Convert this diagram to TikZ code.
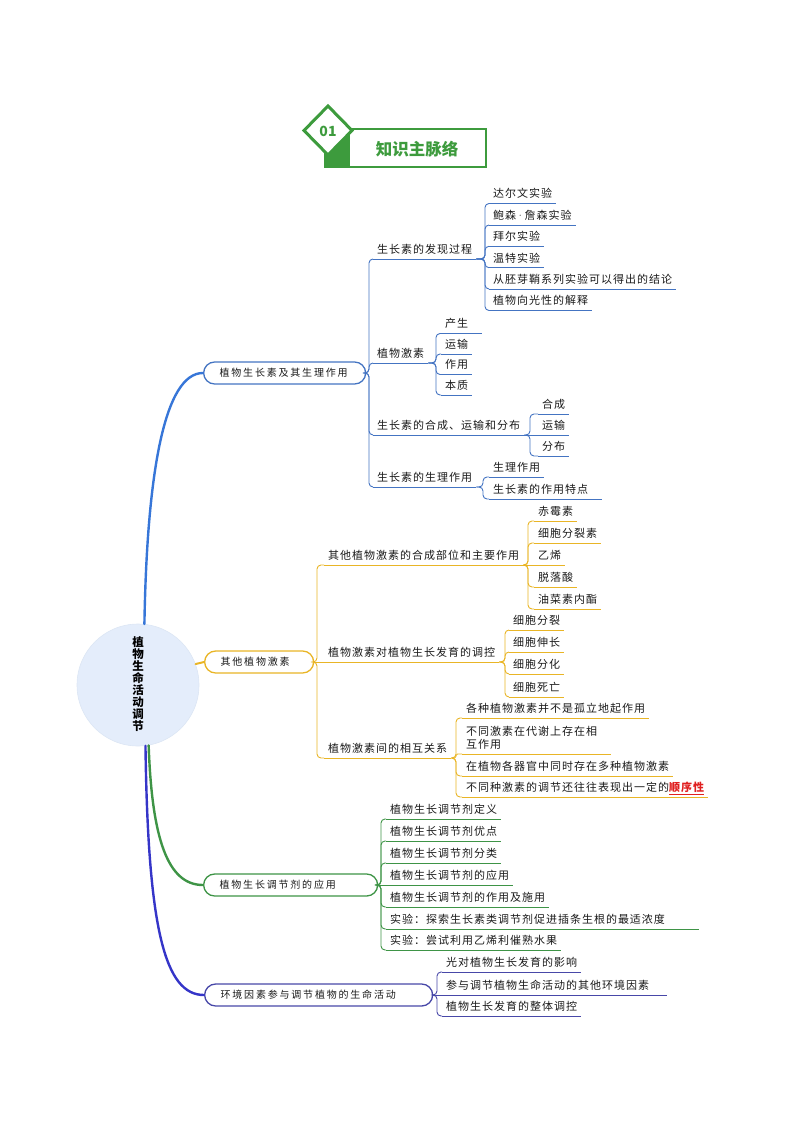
\documentclass[tikz,border=0pt]{standalone}
\usepackage{fontspec}
\usepackage{xcolor}
\newfontfamily\cjk{Noto Sans CJK SC}
\newfontfamily\leaffont{Noto Sans CJK SC}[LetterSpace=9]
\newfontfamily\pillfont{Noto Sans CJK SC}[LetterSpace=18]
\definecolor{hg}{HTML}{3D9B3D}
\definecolor{cA}{HTML}{4474C2}
\definecolor{cAm}{HTML}{3776D8}
\definecolor{cB}{HTML}{E9B526}
\definecolor{cC}{HTML}{3E9446}
\definecolor{cD}{HTML}{4848A8}
\definecolor{cDm}{HTML}{3535C8}
\definecolor{circfill}{HTML}{E4EDFB}
\definecolor{circline}{HTML}{DCE6F4}
\definecolor{txt}{HTML}{1A1A1A}
\definecolor{redtx}{HTML}{E02020}
\tikzset{
  leaf/.style={anchor=south west, inner xsep=4pt, inner ysep=3.5pt, text depth=2pt,
    align=left, text=txt, font={\leaffont\fontsize{11}{13}\selectfont}},
  pill/.style={draw, rounded corners=11pt, fill=white, line width=1.3pt, minimum height=22pt,
    inner xsep=16pt, inner ysep=0pt, anchor=west, align=left, text=txt,
    text height=8pt, text depth=1.5pt, font={\pillfont\fontsize{10}{12}\selectfont}},
  ln/.style={line width=0.9pt, rounded corners=4pt},
  trunk/.style={line width=2.4pt, line cap=round},
}
% color, name, x, y, extension, text
\newcommand\lf[6]{%
  \node[leaf] (#2) at (#3,#4) {#6};
  \draw[#1, line width=0.9pt] (#2.south west) -- ([xshift=#5pt]#2.south east);
}
% color, from, spine, to
\newcommand\cn[4]{\draw[ln,#1] (#2) -- (#2 -| #3) |- (#4);}
\begin{document}
\begin{tikzpicture}[x=1pt,y=-1pt]
\useasboundingbox (0,0) rectangle (794,1123);

% ---------- header ----------
\fill[hg] (325,129) rectangle (350,167);
\draw[hg, line width=2pt] (325,129) rectangle (486,167);
\draw[hg, line width=3pt, fill=white, line join=miter] (328,106) -- (352,130.5) -- (328,155) -- (304,130.5) -- cycle;
\node[font={\cjk\bfseries\fontsize{14}{14}\selectfont}, text=hg] (num) at (328,131) {01};
\node[font={\cjk\bfseries\fontsize{16.5}{18}\selectfont}, text=hg] (ttl) at (417,149) {知识主脉络};

% ---------- center ----------
\node[circle, minimum size=122pt, fill=circfill, draw=circline, line width=0.6pt] (C) at (138,685) {};
\node[align=center, font={\cjk\bfseries\fontsize{11.5}{11.9}\selectfont}, text=black] (Ct) at (138,684)
  {植\\物\\生\\命\\活\\动\\调\\节};

% ---------- pills ----------
\node[pill, draw=cA, text width=130pt] (P1) at (203,373) {植物生长素及其生理作用};
\node[pill, draw=cB, text width=77pt] (P2) at (204,662) {其他植物激素};
\node[pill, draw=cC, text width=142pt] (P3) at (203,885) {植物生长调节剂的应用};
\node[pill, draw=cD, text width=196pt] (P4) at (204,995) {环境因素参与调节植物的生命活动};

% ---------- trunks ----------
\draw[trunk, cAm] (C.84) .. controls (147,470) and (165,373) .. (P1.west);
\draw[trunk, cB, line width=2pt] (C.20) -- (P2.west);
\draw[trunk, cC] (C.-80) .. controls (152,840) and (168,885) .. (P3.west);
\draw[trunk, cDm] (C.-83) .. controls (148,930) and (165,995) .. (P4.west);

% ---------- spines ----------
\coordinate (sp1) at (369,0);
\coordinate (sa1) at (485,0);
\coordinate (sa2) at (436,0);
\coordinate (sa3) at (530,0);
\coordinate (sa4) at (483,0);
\coordinate (sp2) at (317,0);
\coordinate (sb1) at (528,0);
\coordinate (sb2) at (505,0);
\coordinate (sb3) at (456,0);
\coordinate (sp3) at (381,0);
\coordinate (sp4) at (437,0);

% ---------- branch 1 ----------
\lf{cA}{A1}{373}{259}{0}{生长素的发现过程}
\lf{cA}{A2}{373}{363}{0}{植物激素}
\lf{cA}{A3}{373}{435}{0}{生长素的合成、运输和分布}
\lf{cA}{A4}{373}{487}{0}{生长素的生理作用}
\cn{cA}{P1.east}{sp1}{A1.south west}
\cn{cA}{P1.east}{sp1}{A2.south west}
\cn{cA}{P1.east}{sp1}{A3.south west}
\cn{cA}{P1.east}{sp1}{A4.south west}

\lf{cA}{a11}{489}{203.5}{0}{达尔文实验}
\lf{cA}{a12}{489}{225}{0}{鲍森{\rmfamily\textperiodcentered}詹森实验}
\lf{cA}{a13}{489}{246.3}{0}{拜尔实验}
\lf{cA}{a14}{489}{267.7}{0}{温特实验}
\lf{cA}{a15}{489}{289}{0}{从胚芽鞘系列实验可以得出的结论}
\lf{cA}{a16}{489}{310.5}{0}{植物向光性的解释}
\foreach \n in {a11,a12,a13,a14,a15,a16} {\cn{cA}{A1.south east}{sa1}{\n.south west}}

\lf{cA}{a21}{441}{333.5}{10}{产生}
\lf{cA}{a22}{441}{354}{0}{运输}
\lf{cA}{a23}{441}{374.5}{0}{作用}
\lf{cA}{a24}{441}{395}{0}{本质}
\foreach \n in {a21,a22,a23,a24} {\cn{cA}{A2.south east}{sa2}{\n.south west}}

\lf{cA}{a31}{538}{414}{0}{合成}
\lf{cA}{a32}{538}{435}{0}{运输}
\lf{cA}{a33}{538}{456}{0}{分布}
\cn{cA}{A3.south east}{sa3}{a31.south west}
\draw[ln,cA] (A3.south east) -- (a32.south west);
\cn{cA}{A3.south east}{sa3}{a33.south west}

\lf{cA}{a41}{489}{477}{0}{生理作用}
\lf{cA}{a42}{489}{499}{10}{生长素的作用特点}
\cn{cA}{A4.south east}{sa4}{a41.south west}
\cn{cA}{A4.south east}{sa4}{a42.south west}

% ---------- branch 2 ----------
\lf{cB}{B1}{324}{565}{0}{其他植物激素的合成部位和主要作用}
\lf{cB}{B2}{324}{662}{0}{植物激素对植物生长发育的调控}
\lf{cB}{B3}{324}{758}{0}{植物激素间的相互关系}
\cn{cB}{P2.east}{sp2}{B1.south west}
\draw[ln,cB] (P2.east) -- (B2.south west);
\cn{cB}{P2.east}{sp2}{B3.south west}

\lf{cB}{b11}{534}{521}{0}{赤霉素}
\lf{cB}{b12}{534}{543}{0}{细胞分裂素}
\lf{cB}{b13}{534}{565}{0}{乙烯}
\lf{cB}{b14}{534}{587}{0}{脱落酸}
\lf{cB}{b15}{534}{609}{0}{油菜素内酯}
\cn{cB}{B1.south east}{sb1}{b11.south west}
\cn{cB}{B1.south east}{sb1}{b12.south west}
\draw[ln,cB] (B1.south east) -- (b13.south west);
\cn{cB}{B1.south east}{sb1}{b14.south west}
\cn{cB}{B1.south east}{sb1}{b15.south west}

\lf{cB}{b21}{509}{630}{0}{细胞分裂}
\lf{cB}{b22}{509}{652}{0}{细胞伸长}
\lf{cB}{b23}{509}{674}{0}{细胞分化}
\lf{cB}{b24}{509}{697}{0}{细胞死亡}
\foreach \n in {b21,b22,b23,b24} {\cn{cB}{B2.south east}{sb2}{\n.south west}}

\lf{cB}{b31}{462}{718}{0}{各种植物激素并不是孤立地起作用}
\lf{cB}{b32}{462}{754}{10}{不同激素在代谢上存在相\\互作用}
\lf{cB}{b33}{462}{776}{0}{在植物各器官中同时存在多种植物激素}
\lf{cB}{b34}{462}{797}{0}{不同种激素的调节还往往表现出一定的{\color{redtx}\bfseries\underline{顺序性}}}
\cn{cB}{B3.south east}{sb3}{b31.south west}
\draw[line width=0.9pt, rounded corners=1.5pt, cB] (B3.south east) -- (B3.south east -| sb3) |- (b32.south west);
\cn{cB}{B3.south east}{sb3}{b33.south west}
\cn{cB}{B3.south east}{sb3}{b34.south west}

% ---------- branch 3 ----------
\lf{cC}{c1}{386}{819}{0}{植物生长调节剂定义}
\lf{cC}{c2}{386}{841}{0}{植物生长调节剂优点}
\lf{cC}{c3}{386}{863}{0}{植物生长调节剂分类}
\lf{cC}{c4}{386}{885}{0}{植物生长调节剂的应用}
\lf{cC}{c5}{386}{907}{0}{植物生长调节剂的作用及施用}
\lf{cC}{c6}{386}{929}{30}{实验：探索生长素类调节剂促进插条生根的最适浓度}
\lf{cC}{c7}{386}{950}{0}{实验：尝试利用乙烯利催熟水果}
\foreach \n in {c1,c2,c3,c5,c6,c7} {\cn{cC}{P3.east}{sp3}{\n.south west}}
\draw[ln,cC] (P3.east) -- (c4.south west);

% ---------- branch 4 ----------
\lf{cD}{d1}{442}{972}{0}{光对植物生长发育的影响}
\lf{cD}{d2}{442}{995}{14}{参与调节植物生命活动的其他环境因素}
\lf{cD}{d3}{442}{1016}{0}{植物生长发育的整体调控}
\cn{cD}{P4.east}{sp4}{d1.south west}
\draw[ln,cD] (P4.east) -- (d2.south west);
\cn{cD}{P4.east}{sp4}{d3.south west}
\end{tikzpicture}
\end{document}
